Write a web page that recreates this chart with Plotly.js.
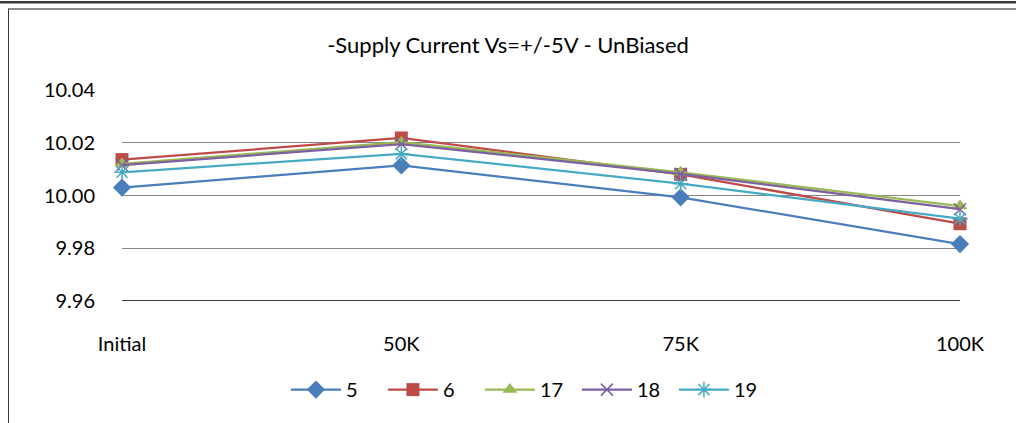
<!DOCTYPE html>
<html>
<head>
<meta charset="utf-8">
<script src="https://cdn.plot.ly/plotly-3.0.1.min.js"></script>
<style>
html,body{margin:0;padding:0;background:#fff;width:1016px;height:423px;overflow:hidden;}
#topline{position:absolute;left:0;top:1px;width:1016px;height:2px;background:#3a3a3a;border-bottom:1px solid #a0a0a0;}
#frame{position:absolute;left:8px;top:8px;width:1010px;height:420px;border-left:1px solid #3a3a3a;border-top:2px solid #8c8c8c;}
#chart{position:absolute;left:0;top:0;width:1016px;height:423px;}
</style>
</head>
<body>
<div id="topline"></div>
<div id="frame"></div>
<div id="chart"></div>
<script>
const categories = ["Initial", "50K", "75K", "100K"];
const seriesNames = ["5", "6", "17", "18", "19"];
const s5  = [10.0030, 10.0114, 9.9993, 9.9816];
const s6  = [10.0136, 10.0218, 10.0080, 9.9893];
const s17 = [10.0120, 10.0202, 10.0088, 9.9960];
const s18 = [10.0115, 10.0195, 10.0082, 9.9948];
const s19 = [10.0088, 10.0158, 10.0045, 9.9912];
const yTicks = [9.96, 9.98, 10.00, 10.02, 10.04];
const yTickText = ["9.96", "9.98", "10.00", "10.02", "10.04"];

const seriesValues = [s5, s6, s17, s18, s19];
const colors = ["#4A7EBB", "#BE4B48", "#98B954", "#7D60A0", "#46AAC5"];
const symbols = ["diamond", "square", "triangle-up", "x-thin-open", "asterisk-open"];
const sizes = [14, 13, 13, 12, 13];

const traces = seriesValues.map((vals, i) => ({
  x: categories,
  y: vals,
  name: seriesNames[i],
  type: "scatter",
  mode: "lines+markers",
  cliponaxis: false,
  line: {color: colors[i], width: 2.25},
  marker: {symbol: symbols[i], size: sizes[i], color: colors[i],
           line: {color: colors[i], width: (i >= 3 ? 1.5 : 0)}}
}));

const layout = {
  width: 1016, height: 423,
  margin: {l: 122, r: 56, t: 90, b: 122},
  paper_bgcolor: "rgba(0,0,0,0)",
  plot_bgcolor: "rgba(0,0,0,0)",
  font: {family: "Lato, 'Liberation Sans', sans-serif", size: 20, color: "#000"},
  title: {text: "-Supply Current Vs=+/-5V - UnBiased", font: {size: 22, color: "#000"},
          x: 0.5, xanchor: "center", y: 0.893, yanchor: "middle"},
  xaxis: {type: "category", range: [0, 3], showgrid: false, zeroline: false,
          showline: false, ticks: "outside", ticklen: 25, tickcolor: "rgba(0,0,0,0)",
          tickfont: {size: 20}},
  yaxis: {range: [9.96, 10.04], tickvals: yTicks, ticktext: yTickText,
          showgrid: true, gridcolor: "#868686", gridwidth: 1.3, zeroline: false,
          showline: false, ticks: "outside", ticklen: 22, tickcolor: "rgba(0,0,0,0)",
          tickfont: {size: 20}},
  shapes: [{type: "line", xref: "paper", yref: "y", x0: 0, x1: 1, y0: 9.96, y1: 9.96,
            line: {color: "#000", width: 1.3}, layer: "below"}],
  showlegend: true,
  legend: {orientation: "h", x: 0.485, xanchor: "center", y: -0.42, yanchor: "middle",
           font: {size: 20}, entrywidth: 32, itemwidth: 50, tracegroupgap: 0,
           bgcolor: "rgba(0,0,0,0)"}
};

Plotly.newPlot("chart", traces, layout, {displayModeBar: false, staticPlot: true});
</script>
</body>
</html>
